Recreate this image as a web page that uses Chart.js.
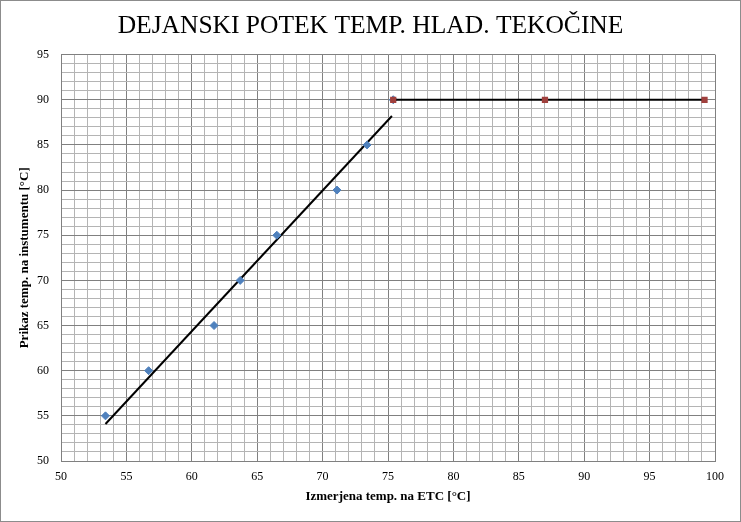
<!DOCTYPE html>
<html>
<head>
<meta charset="utf-8">
<script src="https://cdn.jsdelivr.net/npm/chart.js@4.4.0/dist/chart.umd.min.js"></script>
<style>
  html, body { margin: 0; padding: 0; background: #fff; }
  #wrap { width: 741px; height: 522px; position: relative; }
</style>
</head>
<body>
<div id="wrap"><canvas id="canvas"></canvas></div>
<script>
// izmerjene tocke (modri rombi)
let merjenoX = [53.4, 56.7, 61.7, 63.7, 66.5, 71.1, 73.4, 75.4];
let merjenoY = [55, 60, 65, 70, 75, 80, 85, 90];
// linija trenda (odcitano s slike)
let trendX = [53.4, 75.3];
let trendY = [54.1, 88.2];
// zgornja meja (rdeci kvadratki)
let mejaX = [75.4, 87.0, 99.2];
let mejaY = [90, 90, 90];

let naslov = "DEJANSKI POTEK TEMP. HLAD. TEKOČINE";
let naslovX = "Izmerjena temp. na ETC [°C]";
let naslovY = "Prikaz temp. na instumentu [°C]";

function tocke(xs, ys) {
    let out = [];
    for (let i = 0; i < xs.length; i++)
        out.push({x: xs[i], y: ys[i]});
    return out;
}

function mrezaBarva(c) {
    if (c.tick && c.tick.value % 5 == 0)
        return "#808080";
    return "#b4b4b4";
}

let okvir = {
    id: "okvir",
    afterLayout(chart) {
        // naslov centriran cez celo sliko, ne samo cez graf
        if (chart.titleBlock) {
            chart.titleBlock.left = 0;
            chart.titleBlock.right = chart.width;
            chart.titleBlock.width = chart.width;
        }
    },
    beforeDraw(chart) {
        let ctx = chart.ctx;
        ctx.save();
        ctx.fillStyle = "#fff";
        ctx.fillRect(0, 0, chart.width, chart.height);
        ctx.strokeStyle = "#8c8c8c";
        ctx.lineWidth = 1;
        ctx.strokeRect(0.5, 0.5, chart.width - 1, chart.height - 1);
        ctx.restore();
    }
};

let ctx = document.getElementById("canvas").getContext("2d");
let graf = new Chart(ctx, {
    type: "scatter",
    data: {
        datasets: [{
            label: "trend",
            data: tocke(trendX, trendY),
            showLine: true,
            borderColor: "#000",
            borderWidth: 2,
            pointRadius: 0,
            order: 3
        }, {
            label: "meritve",
            data: tocke(merjenoX, merjenoY),
            pointStyle: "rectRot",
            pointRadius: 4,
            backgroundColor: "#4f81bd",
            borderColor: "#4f81bd",
            order: 2
        }, {
            label: "meja",
            data: tocke(mejaX, mejaY),
            showLine: true,
            borderColor: "#000",
            borderWidth: 2,
            pointStyle: "rect",
            pointRadius: 3,
            backgroundColor: "#a0403d",
            pointBorderColor: "#a0403d",
            order: 1
        }]
    },
    options: {
        responsive: true,
        maintainAspectRatio: false,
        animation: false,
        layout: { padding: { left: 0, right: 26, top: 1, bottom: 0 } },
        plugins: {
            legend: { display: false },
            tooltip: { enabled: false },
            title: {
                display: true,
                text: naslov,
                color: "#000",
                font: { family: "Liberation Serif", size: 25.5, weight: "normal" },
                padding: { top: 10, bottom: 13 }
            }
        },
        scales: {
            x: {
                type: "linear",
                min: 50,
                max: 100,
                afterFit(s) { s.height = 61; },
                ticks: {
                    stepSize: 1,
                    autoSkip: false,
                    maxRotation: 0,
                    padding: 9,
                    color: "#000",
                    font: { family: "Liberation Serif", size: 12 },
                    callback: v => (v % 5 == 0 ? v : "")
                },
                grid: { color: mrezaBarva, drawTicks: false },
                border: { color: "#808080" },
                title: {
                    display: true,
                    text: naslovX,
                    color: "#000",
                    font: { family: "Liberation Serif", size: 13, weight: "bold" },
                    padding: { top: 18, bottom: 18 }
                }
            },
            y: {
                type: "linear",
                min: 50,
                max: 95,
                afterFit(s) { s.width = 61; },
                ticks: {
                    stepSize: 1,
                    autoSkip: false,
                    padding: 12,
                    color: "#000",
                    font: { family: "Liberation Serif", size: 12 },
                    callback: v => (v % 5 == 0 ? v : "")
                },
                grid: { color: mrezaBarva, drawTicks: false },
                border: { color: "#808080" },
                title: {
                    display: true,
                    text: naslovY,
                    color: "#000",
                    font: { family: "Liberation Serif", size: 13, weight: "bold" },
                    padding: { top: 17 }
                }
            }
        }
    },
    plugins: [okvir]
});
</script>
</body>
</html>
